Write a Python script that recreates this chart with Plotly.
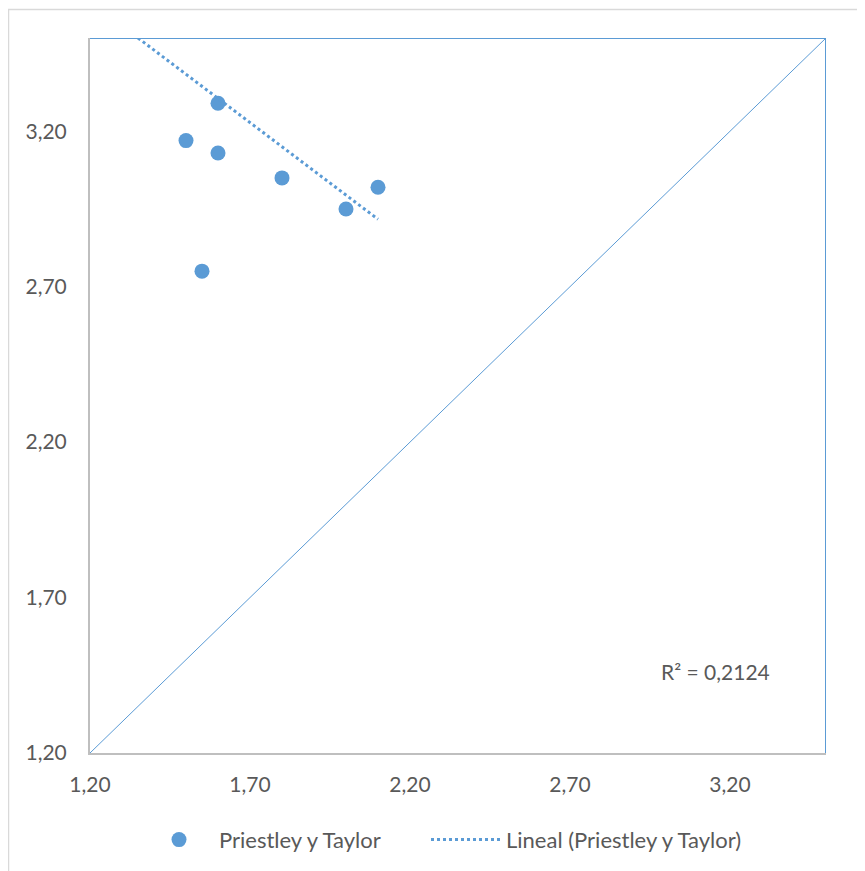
import plotly.graph_objects as go

# ---- data ----
obs_x = [1.60, 1.50, 1.60, 1.80, 2.10, 2.00, 1.55]
obs_y = [3.29, 3.17, 3.13, 3.05, 3.02, 2.95, 2.75]
trend_x = [1.35, 2.10]
trend_y = [3.50, 2.917]
diag_xy = [1.20, 3.50]
tick_vals = [1.20, 1.70, 2.20, 2.70, 3.20]
r2_text = "R² = 0,2124"
series_name = "Priestley y Taylor"
trend_name = "Lineal (Priestley y Taylor)"

BLUE = "#5B9BD5"
GRAY_TXT = "#595959"
AXIS_GRAY = "#BFBFBF"
FONT = "Lato, 'Open Sans', sans-serif"

W, H = 857, 863
L, R, T, B = 82, 39, 30, 118
pw, ph = W - L - R, H - T - B
PAGE_PLOT_LEFT = 90  # page pixel of plot-area left edge

fig = go.Figure()

# 1:1 line
fig.add_trace(go.Scatter(x=diag_xy, y=diag_xy, mode="lines",
                         line=dict(color=BLUE, width=1), showlegend=False,
                         hoverinfo="skip"))
fig.add_trace(go.Scatter(x=obs_x, y=obs_y, mode="markers", name=series_name,
                         marker=dict(color=BLUE, size=15), legend="legend"))
fig.add_trace(go.Scatter(x=trend_x, y=trend_y, mode="lines", name=trend_name,
                         line=dict(color=BLUE, width=3, dash="dot"),
                         legend="legend2"))

lo, hi = diag_xy
# top and right blue frame lines
fig.add_shape(type="line", xref="x", yref="y", x0=lo, x1=hi, y0=hi, y1=hi,
              line=dict(color=BLUE, width=2))
fig.add_shape(type="line", xref="x", yref="y", x0=hi, x1=hi, y0=lo, y1=hi,
              line=dict(color=BLUE, width=2))

# outer chart border (left and top edges visible)
fig.add_shape(type="rect", xref="paper", yref="paper",
              x0=(0.5 - L) / pw, x1=(W + 10 - L) / pw,
              y0=-(B + 10) / ph, y1=(H - B - 1.5) / ph,
              line=dict(color="#D9D9D9", width=1.5), fillcolor="rgba(0,0,0,0)",
              layer="below")

fig.add_annotation(x=3.156, y=1.461, xref="x", yref="y", text=r2_text,
                   showarrow=False, font=dict(size=21, color=GRAY_TXT, family=FONT))

axis_common = dict(range=[lo, hi], tickvals=tick_vals, tickformat=".2f",
                   showgrid=False, zeroline=False, showline=True,
                   linecolor=AXIS_GRAY, linewidth=2, ticks="",
                   tickfont=dict(size=21, color=GRAY_TXT, family=FONT))

leg_common = dict(orientation="h", xanchor="left", y=-0.092, yanchor="top",
                  font=dict(size=22, color=GRAY_TXT, family=FONT),
                  itemwidth=70, bgcolor="rgba(0,0,0,0)")

fig.update_layout(
    width=W, height=H,
    margin=dict(l=L, r=R, t=T, b=B, autoexpand=False),
    paper_bgcolor="white", plot_bgcolor="white",
    separators=",.",
    xaxis=dict(**axis_common, ticklabelstandoff=12),
    yaxis=dict(**axis_common, ticklabelstandoff=17),
    showlegend=True,
    legend=dict(**leg_common, x=(139 - PAGE_PLOT_LEFT) / pw),
    legend2=dict(**leg_common, x=(426 - PAGE_PLOT_LEFT) / pw),
    font=dict(family=FONT, color=GRAY_TXT),
)

fig.write_html("out.html")
